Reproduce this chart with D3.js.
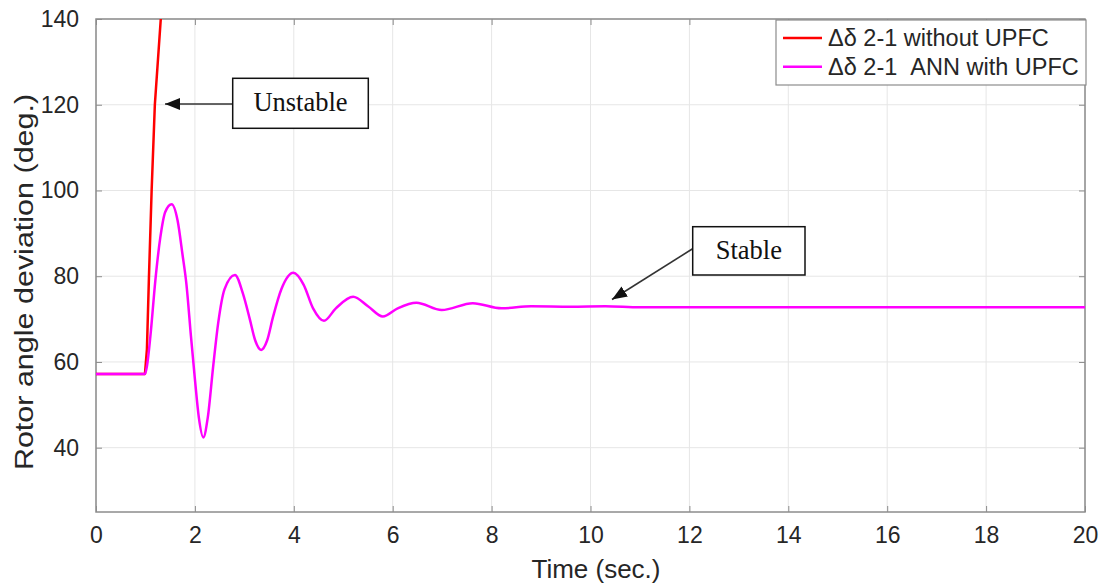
<!DOCTYPE html>
<html>
<head>
<meta charset="utf-8">
<script src="https://cdn.jsdelivr.net/npm/d3@7"></script>
<style>
  html, body { margin: 0; padding: 0; background: #fff; }
  svg { display: block; }
</style>
</head>
<body>
<svg id="chart" width="1107" height="587"></svg>
<script>
// ---- data ----
const xTicks = [0, 2, 4, 6, 8, 10, 12, 14, 16, 18, 20];
const yTicks = [40, 60, 80, 100, 120, 140];
const seriesNames = ["\u0394\u03b4 2-1 without UPFC", "\u0394\u03b4 2-1  ANN with UPFC"];
const seriesColors = ["#ff0000", "#ff00ff"];
// without UPFC (unstable)
const timeRed  = [0, 0.99, 1.03, 1.07, 1.125, 1.19, 1.31, 1.36];
const angleRed = [57.2, 57.2, 63, 79.5, 100, 120, 140, 148];
// ANN with UPFC (stable)
const timePink = [0, 0.99, 1.03, 1.1, 1.2, 1.3, 1.4, 1.53, 1.65, 1.75, 1.83, 1.92, 2.0, 2.08, 2.17,
  2.26, 2.37, 2.47, 2.6, 2.81, 2.97, 3.11, 3.22, 3.34, 3.46, 3.58, 3.75, 3.99, 4.2, 4.39, 4.61,
  4.85, 5.2, 5.5, 5.8, 6.1, 6.48, 6.99, 7.62, 8.2, 8.8, 9.6, 10.3, 11, 20];
const anglePink = [57.2, 57.2, 59, 66, 79, 89, 95, 96.8, 93, 85, 78, 66, 56, 47, 42.4,
  47, 59, 69, 77, 80.3, 76, 70, 65, 62.8, 65, 70.5, 77, 80.8, 78, 72.5, 69.6,
  72.5, 75.2, 73, 70.6, 72.5, 73.8, 72.1, 73.7, 72.5, 73.0, 72.9, 73.0, 72.75, 72.75];
const annotations = [
  {text: "Unstable", box: [232.7, 78.3, 368.3, 128.3]},
  {text: "Stable", box: [692.7, 226.7, 805, 275]}
];

// ---- layout ----
const L = 96, R = 1085, T = 19, B = 512;
const svg = d3.select("#chart");
const x = d3.scaleLinear().domain([0, 20]).range([L, R]);
const y = d3.scaleLinear().domain([25, 140]).range([B, T]);

const defs = svg.append("defs");
defs.append("clipPath").attr("id", "clip").append("rect")
  .attr("x", L).attr("y", T).attr("width", R - L).attr("height", B - T);
defs.append("marker").attr("id", "arrow").attr("viewBox", "0 0 15 12")
  .attr("refX", 15).attr("refY", 6).attr("markerWidth", 15).attr("markerHeight", 12)
  .attr("markerUnits", "userSpaceOnUse").attr("orient", "auto")
  .append("path").attr("d", "M0,0 L15,6 L0,12 Z").attr("fill", "#111");

// grid
const grid = svg.append("g");
grid.selectAll(".gx").data(xTicks).join("line")
  .attr("x1", d => x(d)).attr("x2", d => x(d)).attr("y1", T).attr("y2", B)
  .attr("stroke", "#e6e6e6").attr("stroke-width", 1);
grid.selectAll(".gy").data(yTicks).join("line")
  .attr("x1", L).attr("x2", R).attr("y1", d => y(d)).attr("y2", d => y(d))
  .attr("stroke", "#e6e6e6").attr("stroke-width", 1);

// axes
const axisColor = "#8c8c8c";
function styleAxis(g) {
  g.select(".domain").remove();
  g.selectAll(".tick line").attr("stroke", axisColor).attr("stroke-width", 1);
  g.selectAll(".tick text").attr("fill", "#262626")
    .style("font-family", "'Liberation Sans', Arial, sans-serif").style("font-size", "23px");
}
svg.append("g").attr("transform", `translate(0,${B})`)
  .call(d3.axisBottom(x).tickValues(xTicks).tickFormat(d3.format("d")).tickSizeInner(-6).tickPadding(15))
  .call(styleAxis);
svg.append("g").attr("transform", `translate(0,${T})`)
  .call(d3.axisTop(x).tickValues(xTicks).tickFormat("").tickSizeInner(-6))
  .call(styleAxis);
svg.append("g").attr("transform", `translate(${L},0)`)
  .call(d3.axisLeft(y).tickValues(yTicks).tickFormat(d3.format("d")).tickSizeInner(-6).tickPadding(17))
  .call(styleAxis);
svg.append("g").attr("transform", `translate(${R},0)`)
  .call(d3.axisRight(y).tickValues(yTicks).tickFormat("").tickSizeInner(-6))
  .call(styleAxis);
svg.append("rect").attr("x", L).attr("y", T).attr("width", R - L).attr("height", B - T)
  .attr("fill", "none").attr("stroke", axisColor).attr("stroke-width", 1.5);

// axis labels
svg.append("text").attr("x", 596).attr("y", 578).attr("text-anchor", "middle")
  .attr("fill", "#262626").style("font-family", "'Liberation Sans', Arial, sans-serif")
  .style("font-size", "26px").text("Time (sec.)");
svg.append("text").attr("transform", "translate(33,282) rotate(-90) scale(1.22,1)").attr("text-anchor", "middle")
  .attr("fill", "#262626").style("font-family", "'Liberation Sans', Arial, sans-serif")
  .style("font-size", "25px").text("Rotor angle deviation (deg.)");

// lines
const lineRed = d3.line().x(d => x(d[0])).y(d => y(d[1]));
const line = d3.line().x(d => x(d[0])).y(d => y(d[1])).curve(d3.curveMonotoneX);
const plot = svg.append("g").attr("clip-path", "url(#clip)");
plot.append("path").datum(d3.zip(timeRed, angleRed)).attr("d", lineRed)
  .attr("fill", "none").attr("stroke", seriesColors[0]).attr("stroke-width", 2.5)
  .attr("stroke-linejoin", "round");
plot.append("path").datum(d3.zip(timePink, anglePink)).attr("d", line)
  .attr("fill", "none").attr("stroke", seriesColors[1]).attr("stroke-width", 2.5);

// legend
const lg = svg.append("g");
lg.append("rect").attr("x", 776).attr("y", 20).attr("width", 310).attr("height", 65)
  .attr("fill", "#fff").attr("stroke", "#8c8c8c").attr("stroke-width", 1.2);
seriesNames.forEach((name, i) => {
  const yy = 38 + i * 28.7;
  lg.append("line").attr("x1", 783).attr("x2", 822).attr("y1", yy).attr("y2", yy)
    .attr("stroke", seriesColors[i]).attr("stroke-width", 2.5);
  lg.append("text").attr("x", 828).attr("y", yy + 8).attr("fill", "#262626")
    .style("font-family", "'Liberation Sans', Arial, sans-serif").style("font-size", "23.5px")
    .style("white-space", "pre").attr("xml:space", "preserve").text(name);
});

// annotations
const arrows = [
  {from: [232.7, 104], to: [165, 104]},
  {from: [693, 248.5], to: [612, 299.5]}
];
arrows.forEach(a => {
  svg.append("line").attr("x1", a.from[0]).attr("y1", a.from[1]).attr("x2", a.to[0]).attr("y2", a.to[1])
    .attr("stroke", "#333").attr("stroke-width", 1.6).attr("marker-end", "url(#arrow)");
});
annotations.forEach(a => {
  const [x0, y0, x1, y1] = a.box;
  svg.append("rect").attr("x", x0).attr("y", y0).attr("width", x1 - x0).attr("height", y1 - y0)
    .attr("fill", "#fff").attr("stroke", "#111").attr("stroke-width", 1.5);
  svg.append("text").attr("x", (x0 + x1) / 2).attr("y", (y0 + y1) / 2 + 8).attr("text-anchor", "middle")
    .attr("fill", "#111").style("font-family", "'Liberation Serif', 'DejaVu Serif', serif")
    .style("font-size", "26.5px").text(a.text);
});
</script>
</body>
</html>
